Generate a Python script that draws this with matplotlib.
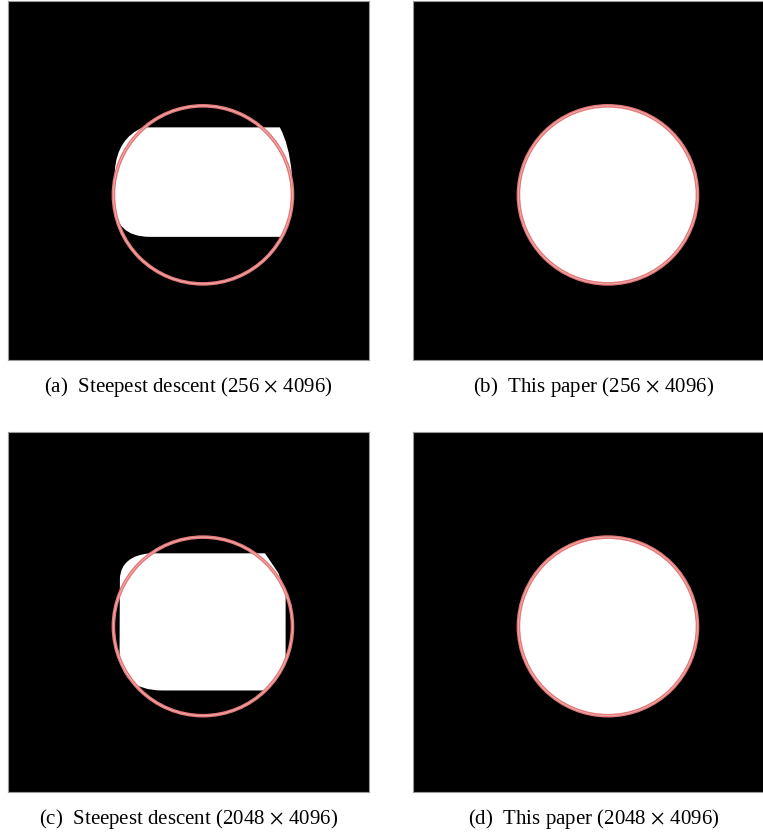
import matplotlib
matplotlib.use("Agg")
import matplotlib.pyplot as plt
from matplotlib.path import Path
from matplotlib.patches import PathPatch, Circle

# reference circle (image coordinates, y pointing down, unit square)
CIRCLE_CENTER = (0.54, 0.54)
CIRCLE_RADIUS = 0.248

# segmented regions found by steepest descent: outline vertices + path codes
M, L, Q = Path.MOVETO, Path.LINETO, Path.CURVE3
REGION_A_VERTS = [(0.374, 0.352), (0.753, 0.352),
                  (0.779, 0.400), (0.786, 0.480),
                  (0.786, 0.554),
                  (0.780, 0.628), (0.758, 0.657),
                  (0.393, 0.657),
                  (0.296, 0.657), (0.296, 0.563),
                  (0.296, 0.471),
                  (0.303, 0.382), (0.374, 0.352)]
REGION_A_CODES = [M, L, Q, Q, L, Q, Q, L, Q, Q, L, Q, Q]

REGION_C_VERTS = [(0.393, 0.337), (0.712, 0.337),
                  (0.749, 0.392), (0.769, 0.447),
                  (0.769, 0.635),
                  (0.752, 0.690), (0.713, 0.718),
                  (0.428, 0.718),
                  (0.309, 0.718), (0.309, 0.607),
                  (0.310, 0.406),
                  (0.314, 0.344), (0.393, 0.337)]
REGION_C_CODES = [M, L, L, L, L, Q, Q, L, Q, Q, L, Q, Q]

CAPTIONS = ["(a)  Steepest descent (256$\\,\\times\\,$4096)",
            "(b)  This paper (256$\\,\\times\\,$4096)",
            "(c)  Steepest descent (2048$\\,\\times\\,$4096)",
            "(d)  This paper (2048$\\,\\times\\,$4096)"]

plt.rcParams['font.family'] = ['Liberation Serif', 'DejaVu Serif']
plt.rcParams['mathtext.fontset'] = 'stix'

W, H = 763, 836
fig = plt.figure(figsize=(W / 100, H / 100), dpi=100)

# panel boxes in pixels: left, top, width, height
boxes = [(8, 1, 361, 359), (413, 1, 361, 359),
         (8, 432, 361, 360), (413, 432, 361, 360)]
ring_color = '#e27878'


def draw_panel(ax, region):
    ax.set_facecolor('black')
    ax.set_xlim(0, 1)
    ax.set_ylim(1, 0)
    ax.set_xticks([])
    ax.set_yticks([])
    for s in ax.spines.values():
        s.set_color('#9a9a9a')
        s.set_linewidth(0.8)
    if region is None:
        ax.add_patch(Circle(CIRCLE_CENTER, CIRCLE_RADIUS, facecolor='white',
                            edgecolor='none'))
    else:
        verts, codes = region
        ax.add_patch(PathPatch(Path(verts, codes), facecolor='white',
                               edgecolor='none'))
    ax.add_patch(Circle(CIRCLE_CENTER, CIRCLE_RADIUS, facecolor='none',
                        edgecolor=ring_color, linewidth=2.6))
    ax.add_patch(Circle(CIRCLE_CENTER, CIRCLE_RADIUS, facecolor='none',
                        edgecolor='#f3b3b3', linewidth=0.6))


regions = [(REGION_A_VERTS, REGION_A_CODES), None,
           (REGION_C_VERTS, REGION_C_CODES), None]

for (x, y, w, h), region, cap in zip(boxes, regions, CAPTIONS):
    ax = fig.add_axes([x / W, 1 - (y + h) / H, w / W, h / H])
    draw_panel(ax, region)
    fig.text((x + w / 2) / W, 1 - (y + h + 32) / H, cap, ha='center',
             va='baseline', fontsize=15)

fig.savefig('out.png', dpi=100)
